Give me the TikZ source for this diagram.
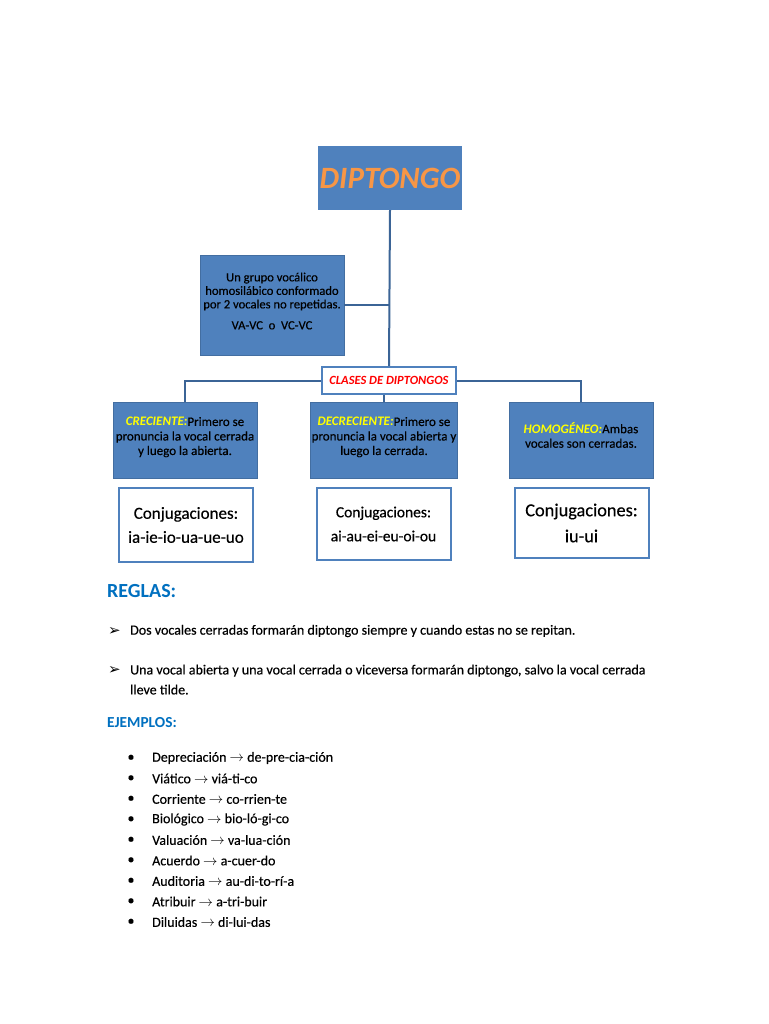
\documentclass[tikz,border=0pt]{standalone}
\usepackage{fontspec}
\setmainfont{Carlito}[UprightFeatures={FakeBold=0.35}]
\newfontfamily\symfont{DejaVu Sans}
\usetikzlibrary{positioning, calc}

\definecolor{boxblue}{HTML}{4F81BD}
\definecolor{linkblue}{HTML}{3B6496}
\definecolor{titleorange}{HTML}{F79646}
\definecolor{headblue}{HTML}{0070C0}
\definecolor{tagyellow}{HTML}{FFFF00}

\tikzset{
  bluebox/.style={fill=boxblue, draw=boxblue!85!black, line width=0.6pt,
    minimum width=144pt, minimum height=76pt, inner sep=1pt, align=center,
    font=\fontsize{13}{14.5}\selectfont},
  whitebox/.style={fill=white, draw=boxblue, line width=2pt, align=center,
    minimum width=134pt, minimum height=70pt},
  link/.style={draw=linkblue, line width=2pt},
  ruletext/.style={anchor=west, inner sep=0pt, font=\fontsize{14}{20}\selectfont},
}

\begin{document}
\begin{tikzpicture}[x=1pt, y=-1pt]
    \useasboundingbox[fill=white] (0,0) rectangle (768,1024);

    % --- Title ---
    \node[fill=boxblue, minimum width=144pt, minimum height=64pt, inner sep=1pt, text=titleorange,
      font=\fontsize{31}{31}\selectfont\bfseries\itshape] (diptongo) at (390,178) {DIPTONGO};

    % --- Definition ---
    \node[bluebox, minimum height=100pt, font=\fontsize{12.6}{13.5}\selectfont] (definicion) at (272,305)
      {Un grupo vocálico\\ homosilábico conformado\\ por 2 vocales no repetidas.\\[7.5pt] VA-VC\ \ o\ \ VC-VC\\[-5.5pt]};

    % --- Clases ---
    \node[fill=white, draw=boxblue, line width=2pt, minimum width=134pt, minimum height=27pt,
      text=red, font=\fontsize{12.5}{13}\selectfont\bfseries\itshape] (clases) at (389,380.5) {CLASES DE DIPTONGOS};

    % --- Types of diptongo ---
    \node[bluebox] (creciente) at (185,440)
      {\textcolor{tagyellow}{\bfseries\itshape CRECIENTE:}Primero se\\ pronuncia la vocal cerrada\\ y luego la abierta.\\[-6.5pt]};
    \node[bluebox] (decreciente) at (384,440)
      {\textcolor{tagyellow}{\bfseries\itshape DECRECIENTE:}Primero se\\ pronuncia la vocal abierta y\\ luego la cerrada.\\[-6.5pt]};
    \node[bluebox] (homogeneo) at (581,440)
      {\textcolor{tagyellow}{\bfseries\itshape HOMOGÉNEO:}Ambas\\ vocales son cerradas.\\[-4.5pt]};

    % --- Conjugaciones ---
    \node[whitebox, minimum height=74pt, font=\fontsize{17}{24}\selectfont] (conjA) at (186,525)
      {Conjugaciones:\\ ia-ie-io-ua-ue-uo};
    \node[whitebox, minimum height=72pt, font=\fontsize{15.5}{24}\selectfont] (conjB) at (383.5,524)
      {Conjugaciones:\\ ai-au-ei-eu-oi-ou};
    \node[whitebox, font=\fontsize{18.3}{26}\selectfont] (conjC) at (581.5,523)
      {Conjugaciones:\\ iu-ui};

    % --- Connecting lines ---
    \draw[link] (diptongo.south) -- (clases.north);
    \draw[link] (definicion.east) -- (definicion.east -| diptongo.south);
    \draw[link] (clases.west) -| (creciente.north);
    \draw[link] (clases.east) -| (homogeneo.north);
    \draw[link] (clases.south -| decreciente.north) -- (decreciente.north);

    % --- Reglas ---
    \node[anchor=west, inner sep=0pt, text=headblue, font=\fontsize{20}{24}\selectfont\bfseries] (reglas) at (107,591) {REGLAS:};
    \node[ruletext, font=\fontsize{15}{16}\symfont] (flechaA) at (108,631) {➢};
    \node[ruletext] (reglaA) at (130,631) {Dos vocales cerradas formarán diptongo siempre y cuando estas no se repitan.};
    \node[ruletext, font=\fontsize{15}{16}\symfont] (flechaB) at (108,670) {➢};
    \node[ruletext, anchor=north west, align=left] (reglaB) at (130,664.5)
      {Una vocal abierta y una vocal cerrada o viceversa formarán diptongo, salvo la vocal cerrada\\ lleve tilde.};

    % --- Ejemplos ---
    \node[anchor=west, inner sep=0pt, text=headblue, font=\fontsize{15.3}{16}\selectfont\bfseries] (ejemplos) at (107,722.5) {EJEMPLOS:};
    \foreach \palabra/\silabas [count=\i] in {Depreciación/de-pre-cia-ción, Viático/viá-ti-co,
      Corriente/co-rrien-te, Biológico/bio-ló-gi-co, Valuación/va-lua-ción, Acuerdo/a-cuer-do,
      Auditoria/au-di-to-rí-a, Atribuir/a-tri-buir, Diluidas/di-lui-das}
    {
      \node[ruletext, anchor=center] (punto\i) at (131,{758+(\i-1)*20.5}) {•};
      \node[ruletext] (ejemplo\i) at (152,{758+(\i-1)*20.5}) {\palabra\ $\rightarrow$ \silabas};
    }

\end{tikzpicture}
\end{document}
